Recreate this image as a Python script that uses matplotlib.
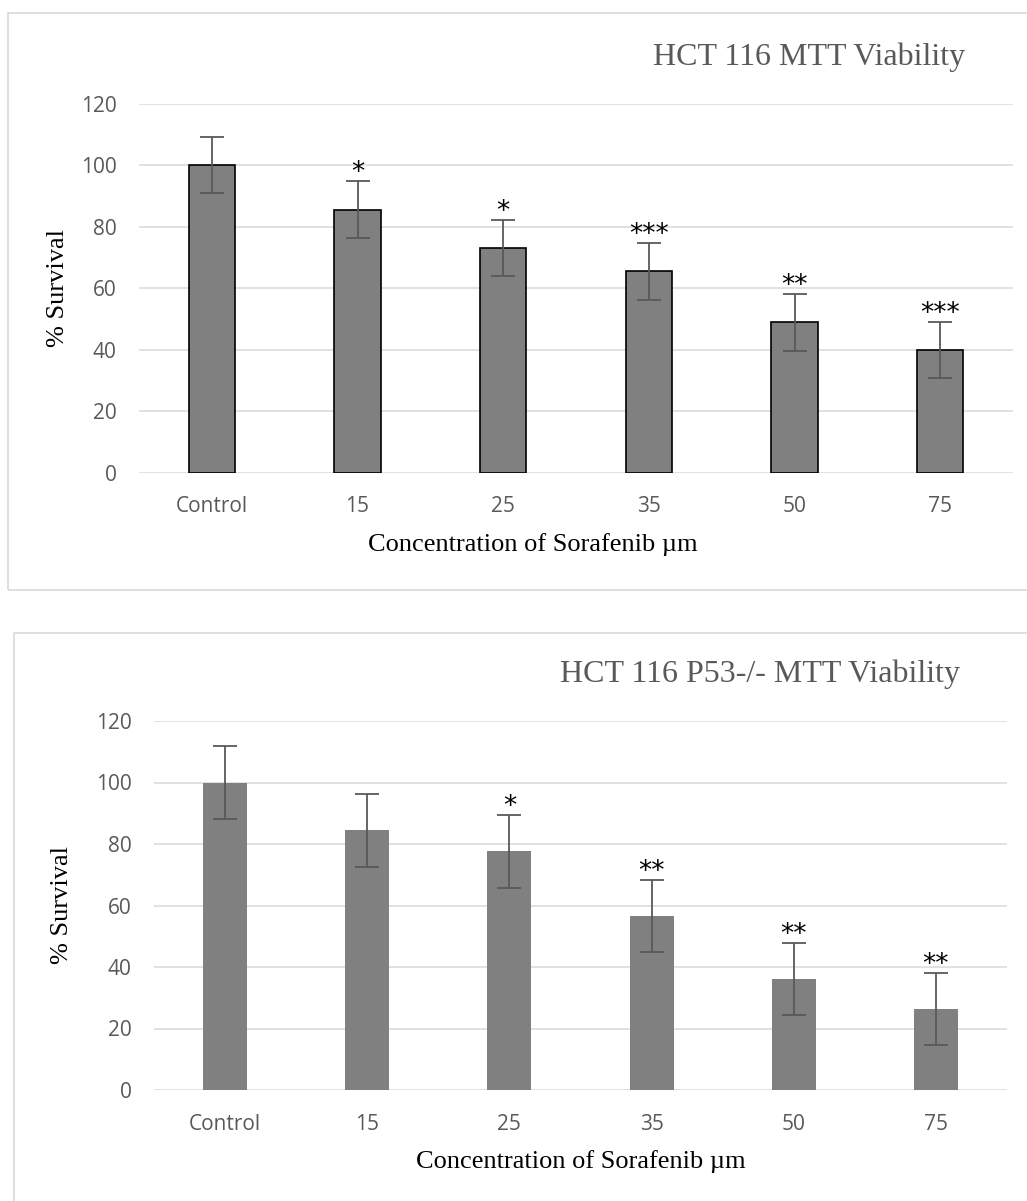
import matplotlib.pyplot as plt
from matplotlib.patches import Rectangle

categories = ['Control', '15', '25', '35', '50', '75']

wt_mean = [100, 85.6, 73, 65.5, 48.9, 39.9]
wt_err = [9.1, 9.2, 9.1, 9.2, 9.2, 9.1]
wt_stars = ['', '*', '*', '***', '**', '***']

p53_mean = [100, 84.4, 77.6, 56.6, 36.0, 26.3]
p53_err = [11.8, 11.8, 11.8, 11.7, 11.7, 11.7]
p53_stars = ['', '', '*', '**', '**', '**']

W, H = 1027, 1201
fig = plt.figure(figsize=(W / 100, H / 100), dpi=100)

grey_txt = '#595959'
serif = 'Liberation Serif'
sans = 'Open Sans'

# light grey chart-area frames (pixel coords converted to figure fractions)
for x0, y0, x1, y1 in [(8, 13, 1040, 590), (14, 633, 1040, 1230)]:
    fig.patches.append(Rectangle((x0 / W, 1 - y1 / H), (x1 - x0) / W, (y1 - y0) / H,
                                 transform=fig.transFigure, fill=False,
                                 edgecolor='#d9d9d9', lw=1.2))


def panel(rect, means, errs, stars, title, edge, width, xlab_x, ylab_x):
    ax = fig.add_axes(rect)
    x = range(len(categories))
    ax.bar(x, means, width=width, color='#808080',
           edgecolor='black' if edge else 'none', linewidth=1.2 if edge else 0, zorder=3)
    ax.errorbar(x, means, yerr=errs, fmt='none', ecolor=grey_txt,
                elinewidth=1.3, capsize=8.6, capthick=1.3, zorder=4)
    for xi, m, e, s in zip(x, means, errs, stars):
        if s:
            ax.annotate(s, (xi, m + e), xytext=(0, 6), textcoords='offset points',
                        ha='center', va='center', fontsize=19, color='black',
                        fontfamily='DejaVu Sans')
    ax.set_xlim(-0.5, len(categories) - 0.5)
    ax.set_ylim(0, 120)
    ax.set_yticks(range(0, 121, 20))
    ax.set_xticks(list(x))
    ax.set_xticklabels(categories)
    ax.yaxis.grid(True, color='#d9d9d9', lw=1.1, zorder=0)
    ax.set_axisbelow(True)
    for sp in ax.spines.values():
        sp.set_visible(False)
    ax.tick_params(axis='both', length=0, labelsize=15, labelcolor=grey_txt)
    ax.tick_params(axis='y', pad=16)
    ax.tick_params(axis='x', pad=17)
    for lab in ax.get_xticklabels() + ax.get_yticklabels():
        lab.set_family(sans)
    ax.set_xlabel('Concentration of Sorafenib µm', family=serif, fontsize=19, color='black')
    ax.xaxis.label.set_va('center')
    ax.xaxis.set_label_coords(xlab_x, -0.195)
    ax.set_ylabel('% Survival', family=serif, fontsize=19, color='black')
    ax.yaxis.label.set_va('center')
    ax.yaxis.set_label_coords(ylab_x, 0.5)
    ax.text(0.945, 1.128, title, transform=ax.transAxes, ha='right', va='center',
            family=serif, fontsize=23, color=grey_txt)
    return ax


panel([139 / W, 1 - 472.7 / H, 874 / W, 368.7 / H], wt_mean, wt_err, wt_stars,
      'HCT 116 MTT Viability', True, 0.32, 0.451, -0.093)
panel([154 / W, 1 - 1090 / H, 853 / W, 369 / H], p53_mean, p53_err, p53_stars,
      'HCT 116 P53-/- MTT Viability', False, 0.31, 0.5, -0.108)

fig.savefig('out.png', dpi=100)
